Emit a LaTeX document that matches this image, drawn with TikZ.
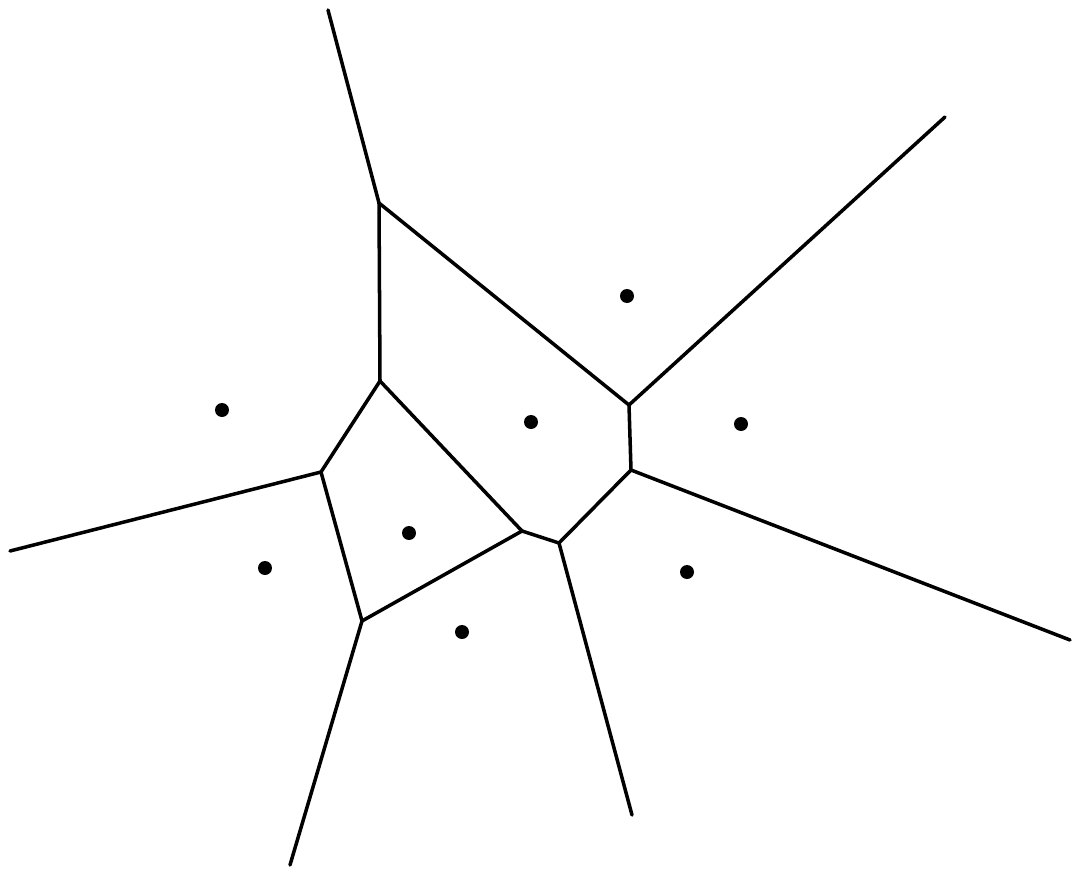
\documentclass[tikz,border=0pt]{standalone}
\usepackage{tikz}
\usetikzlibrary{positioning}
\tikzset{
every picture/.style={line width=2pt},
site/.style={circle, fill=black, inner sep=0pt, minimum size=2.8mm},
cell/.style={draw=black, line cap=round, line join=round}
}

\begin{document}
\begin{tikzpicture}[x=0.02cm, y=-0.02cm]
\useasboundingbox (0,0) rectangle (1083,869);
%Vertices
\coordinate (A) at (379,203);
\coordinate (B) at (380,381);
\coordinate (C) at (629,405);
\coordinate (D) at (631,470);
\coordinate (E) at (321,472);
\coordinate (F) at (522,531);
\coordinate (G) at (559,543);
\coordinate (H) at (362,621);
%Far ends
\coordinate (Atop) at (328,10);
\coordinate (Cfar) at (945,117);
\coordinate (Efar) at (10,551);
\coordinate (Dfar) at (1070,640);
\coordinate (Hfar) at (290,865);
\coordinate (Gfar) at (632,815);

%Sites
\node [site] (p1) at (627,296) {};
\node [site] (p2) at (222,410) {};
\node [site] (p3) at (531,422) {};
\node [site] (p4) at (741,424) {};
\node [site] (p5) at (409,533) {};
\node [site] (p6) at (265,568) {};
\node [site] (p7) at (687,572) {};
\node [site] (p8) at (462,632) {};

%Lines
\draw [cell] (Atop) -- (A);
\draw [cell] (A) -- (B);
\draw [cell] (A) -- (C);
\draw [cell] (C) -- (Cfar);
\draw [cell] (C) -- (D);
\draw [cell] (B) -- (E);
\draw [cell] (B) -- (F);
\draw [cell] (E) -- (Efar);
\draw [cell] (E) -- (H);
\draw [cell] (H) -- (F);
\draw [cell] (F) -- (G);
\draw [cell] (G) -- (D);
\draw [cell] (D) -- (Dfar);
\draw [cell] (H) -- (Hfar);
\draw [cell] (G) -- (Gfar);

\end{tikzpicture}
\end{document}
